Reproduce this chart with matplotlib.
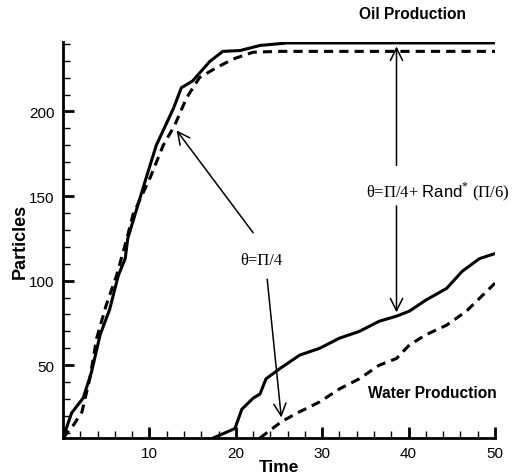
import numpy as np
from matplotlib import pyplot as plt

# oil production, theta = pi/4 + rand*(pi/6)  (solid)
oil_t1 = [0, 1.0, 2.35, 3.3, 4.3, 5.4, 6.4, 7.2, 7.5, 9.7, 10.8, 12.8, 13.7, 15, 17, 18.5, 20.5, 22.8, 26, 50]
oil_y1 = [7, 21.8, 30.7, 46, 68, 83, 103, 113, 125, 162, 180, 202, 214, 218, 229.6, 235.5, 236, 239, 240.5, 240.5]

# oil production, theta = pi/4  (dashed)
oil_t2 = [0, 1.2, 2.2, 3.1, 3.9, 5.0, 6.2, 7.4, 8.1, 10.1, 11.6, 12.9, 14.3, 15.8, 17.8, 19.7, 22, 25, 50]
oil_y2 = [7, 14.5, 22.5, 42, 66, 85.5, 103, 125, 139, 161, 180, 191.5, 208, 220, 226, 231, 235, 235.5, 235.5]

# water production (solid)
wat_t1 = [17.4, 19.9, 20.7, 22, 22.8, 23.5, 25.1, 27.4, 29.7, 32, 34.3, 36.6, 38.6, 40.1, 42, 44.4, 46.2, 48.2, 50]
wat_y1 = [7, 12.6, 24, 30.5, 33, 42, 48, 56, 60, 66, 70, 76, 79, 82, 88.5, 95.4, 105.5, 113, 116]

# water production (dashed)
wat_t2 = [22.8, 25.3, 27.4, 29.7, 32, 34.3, 36.6, 38.6, 40.1, 42, 44.4, 46.7, 50]
wat_y2 = [7, 16.7, 22.5, 28.3, 36, 42, 50, 54, 62, 68, 73.7, 82, 98.5]

plt.rcParams['font.family'] = ['Liberation Sans', 'DejaVu Sans']
plt.rcParams['mathtext.fontset'] = 'custom'
plt.rcParams['mathtext.sf'] = 'Liberation Sans'
plt.rcParams['mathtext.rm'] = 'Liberation Serif'

fig = plt.figure(figsize=(5.18, 4.77), dpi=100)
ax = fig.add_axes([0.1216, 0.0797, 0.834, 0.830])

dash = (0, (3, 2))
ax.plot(oil_t1, oil_y1, '-', color='black', lw=2.2)
ax.plot(oil_t2, oil_y2, color='black', lw=2.2, linestyle=dash)
ax.plot(wat_t1, wat_y1, '-', color='black', lw=2.2)
ax.plot(wat_t2, wat_y2, color='black', lw=2.2, linestyle=dash)

ax.set_xlim(0, 50)
ax.set_ylim(7, 241)
ax.set_xticks([10, 20, 30, 40, 50])
ax.set_xticks(np.arange(0, 51, 2), minor=True)
ax.set_yticks([50, 100, 150, 200])
ax.set_yticks(np.arange(10, 241, 10), minor=True)
ax.tick_params(which='major', direction='in', length=8, width=2, labelsize=11, pad=6)
ax.tick_params(which='minor', direction='in', length=5, width=1)
for s in ['top', 'right']:
    ax.spines[s].set_visible(False)
for s in ['left', 'bottom']:
    ax.spines[s].set_linewidth(2)

ax.set_xlabel('Time', fontsize=12.5, fontweight='bold', labelpad=-1)
ax.set_ylabel('Particles', fontsize=13, fontweight='bold', labelpad=0)

serif = ['Liberation Serif', 'DejaVu Serif']
ap = dict(arrowstyle='->', lw=1.1, color='black', mutation_scale=22)
ax.text(23.0, 112, 'θ=Π/4', fontsize=12, family=serif, ha='center', va='center')
ax.annotate('', xy=(12.96, 190.1), xytext=(22.2, 127), arrowprops=ap)
ax.annotate('', xy=(25.3, 17.5), xytext=(23.6, 102.5), arrowprops=ap)

ax.text(43.4, 153, r'θ=Π/4+ $\mathsf{Rand}^{*}$ (Π/6)', fontsize=12, family=serif,
        ha='center', va='center')
ax.annotate('', xy=(38.6, 240), xytext=(38.6, 166.5), arrowprops=ap)
ax.annotate('', xy=(38.6, 79.6), xytext=(38.6, 145.8), arrowprops=ap)

ax.text(40.5, 258, 'Oil Production', fontsize=11.2, fontweight='bold', ha='center', va='center', clip_on=False)
ax.text(42.7, 34, 'Water Production', fontsize=11.2, fontweight='bold', ha='center', va='center')

plt.savefig('out.png', dpi=100)
